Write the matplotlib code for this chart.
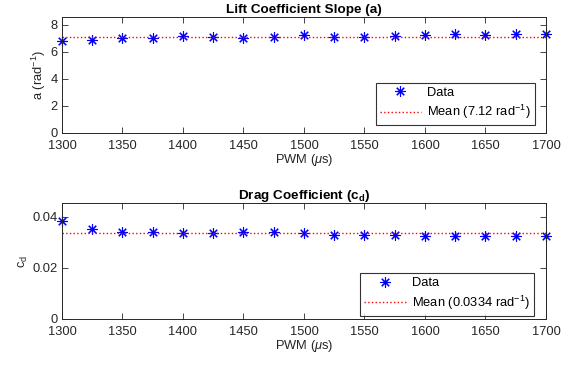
import matplotlib
matplotlib.use("Agg")
import matplotlib.pyplot as plt
import numpy as np

plt.rcParams['font.family'] = ['Liberation Sans', 'DejaVu Sans']
plt.rcParams['mathtext.fontset'] = 'custom'
plt.rcParams['mathtext.rm'] = 'Liberation Sans'
plt.rcParams['mathtext.it'] = 'Liberation Sans:italic'
plt.rcParams['mathtext.bf'] = 'Liberation Sans:bold'

pwm = [1300, 1325, 1350, 1375, 1400, 1425, 1450, 1475, 1500,
       1525, 1550, 1575, 1600, 1625, 1650, 1675, 1700]
lift_slope = [6.80, 6.85, 7.02, 7.00, 7.20, 7.10, 7.05, 7.07, 7.27,
              7.12, 7.12, 7.15, 7.22, 7.32, 7.24, 7.29, 7.32]
drag_coef = [0.0384, 0.0351, 0.0339, 0.0340, 0.0335, 0.0335, 0.0339, 0.0338, 0.0335,
             0.0327, 0.0327, 0.0327, 0.0323, 0.0323, 0.0323, 0.0323, 0.0323]
lift_mean = 7.12
drag_mean = 0.0334
x_ticks = [1300, 1350, 1400, 1450, 1500, 1550, 1600, 1650, 1700]

grey = (0.15, 0.15, 0.15)
fs = 9.3
star = (8, 2, 0)

fig = plt.figure(figsize=(5.61, 3.68), dpi=100)
ax1 = fig.add_axes([0.1105, 0.6394, 0.8627, 0.3136])
ax2 = fig.add_axes([0.1105, 0.1332, 0.8627, 0.3144])

def style(ax):
    ax.set_xlim(1300, 1700)
    ax.set_xticks(x_ticks)
    ax.tick_params(direction='in', top=True, right=True, labelsize=fs,
                   colors=grey, length=4, width=0.6)
    ax.tick_params(axis='x', pad=5)
    ax.tick_params(axis='y', pad=3)
    for s in ax.spines.values():
        s.set_color(grey)
        s.set_linewidth(0.7)
    ax.set_xlabel(r'PWM ($\mu$s)', fontsize=fs, color=grey, labelpad=0)

def legend(ax, anchor):
    leg = ax.legend(loc='lower right', bbox_to_anchor=anchor, fontsize=fs,
                    frameon=True, fancybox=False, edgecolor='black',
                    borderaxespad=0, handlelength=3.2, handletextpad=0.5,
                    labelspacing=0.35, borderpad=0.3)
    leg.get_frame().set_linewidth(0.8)
    return leg

# top
ax1.plot(pwm, lift_slope, linestyle='none', marker=star, color='blue',
         markersize=7.5, mew=0.8, label='Data', clip_on=False)
ax1.plot([1300, 1700], [lift_mean, lift_mean], ':', color='red', lw=1,
         label=r'Mean (7.12 rad$^{-1}$)')
ax1.set_ylim(0, 8.55)
ax1.set_yticks([0, 2, 4, 6, 8])
style(ax1)
ax1.set_ylabel(r'a (rad$^{-1}$)', fontsize=fs, color=grey, labelpad=2)
ax1.set_title('Lift Coefficient Slope (a)', fontsize=9.7, fontweight='bold', pad=3)
legend(ax1, (0.977, 0.064))

# bottom
ax2.plot(pwm, drag_coef, linestyle='none', marker=star, color='blue',
         markersize=7.5, mew=0.8, label='Data', clip_on=False)
ax2.plot([1300, 1700], [drag_mean, drag_mean], ':', color='red', lw=1,
         label=r'Mean (0.0334 rad$^{-1}$)')
ax2.set_ylim(0, 0.0452)
ax2.set_yticks([0, 0.02, 0.04])
ax2.set_yticklabels(['0', '0.02', '0.04'])
style(ax2)
ax2.set_ylabel(r'c$_{\rm d}$', fontsize=fs, color=grey, labelpad=2)
ax2.set_title(r'Drag Coefficient (c$_{\mathbf{d}}$)', fontsize=9.7, fontweight='bold', pad=3)
legend(ax2, (0.975, 0.029))

fig.savefig('out.png', dpi=100)
